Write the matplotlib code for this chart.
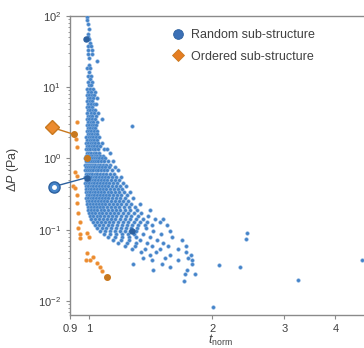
import matplotlib
matplotlib.use('Agg')
import matplotlib.pyplot as plt
from matplotlib.ticker import FixedLocator, LogLocator, NullLocator, NullFormatter
from matplotlib.lines import Line2D

plt.rcParams['font.family'] = ['Liberation Sans', 'DejaVu Sans']
plt.rcParams['mathtext.fontset'] = 'custom'
plt.rcParams['mathtext.rm'] = 'Liberation Sans'
plt.rcParams['mathtext.it'] = 'Liberation Sans:italic'

# Random sub-structure: (dP, [t_norm, ...])
random_rows = [
    (98.0, [0.989]), (87.9, [0.989]), (77.1, [0.994]), (65.6, [1.0]),
    (55.8, [0.994]), (50.6, [0.994]), (47.4, [0.983, 1.0]), (41.7, [1.006]),
    (37.8, [0.994, 1.011]), (33.2, [0.994, 1.017]), (29.2, [0.994, 1.017]),
    (25.6, [1.0]), (23.2, [1.046]), (20.4, [1.0]), (18.5, [0.989, 1.006]),
    (16.3, [1.0]), (14.3, [0.994, 1.011]), (13.0, [1.006]),
    (11.8, [0.994, 1.017]), (10.7, [1.0, 1.011]),
    (9.37, [0.989, 1.006, 1.023]), (8.5, [0.994, 1.011, 1.034]),
    (7.72, [0.989, 1.0, 1.017, 1.029]), (7.0, [0.994, 1.006, 1.023, 1.046]),
    (6.35, [0.989, 1.006, 1.017]), (5.76, [0.994, 1.011, 1.029, 1.040]),
    (5.23, [0.989, 1.0, 1.017]), (4.74, [0.994, 1.006, 1.023, 1.034]),
    (4.30, [0.989, 1.011, 1.029, 1.052]), (3.90, [0.994, 1.006, 1.017, 1.040]),
    (3.54, [0.989, 1.0, 1.017, 1.034, 1.076]),
    (3.21, [0.994, 1.011, 1.023, 1.046]),
    (2.92, [0.989, 1.0, 1.017, 1.029, 1.040]), (2.82, [1.274]),
    (2.65, [0.994, 1.006, 1.023, 1.034]),
    (2.40, [0.989, 1.0, 1.011, 1.029, 1.046]),
    (2.18, [0.994, 1.006, 1.017, 1.034, 1.046]),
    (1.98, [0.983, 1.0, 1.011, 1.023, 1.040, 1.058]),
    (1.79, [0.989, 1.006, 1.017, 1.029, 1.046]),
    (1.63, [0.983, 0.994, 1.011, 1.023, 1.034, 1.052, 1.076]),
    (1.48, [0.989, 1.0, 1.017, 1.029, 1.046, 1.064]),
    (1.34, [0.983, 0.994, 1.006, 1.023, 1.034, 1.052, 1.088, 1.107]),
    (1.21, [0.989, 1.0, 1.011, 1.029, 1.040, 1.058, 1.126]),
    (1.10, [0.983, 0.994, 1.006, 1.017, 1.034, 1.046, 1.064, 1.082]),
    (1.0, [0.978, 0.989, 1.0, 1.011, 1.023, 1.034, 1.046, 1.058, 1.076, 1.094]),
    (0.907, [0.983, 0.994, 1.006, 1.017, 1.029, 1.040, 1.052, 1.070, 1.088, 1.113, 1.145]),
    (0.823, [0.978, 0.989, 1.0, 1.011, 1.023, 1.034, 1.052, 1.064, 1.082, 1.101, 1.126]),
    (0.747, [0.983, 0.994, 1.006, 1.017, 1.029, 1.046, 1.058, 1.076, 1.094, 1.119, 1.158]),
    (0.678, [0.978, 0.989, 1.0, 1.011, 1.023, 1.040, 1.052, 1.070, 1.088, 1.107, 1.138, 1.178]),
    (0.615, [0.983, 0.994, 1.006, 1.017, 1.034, 1.046, 1.064, 1.082, 1.101, 1.126, 1.151]),
    (0.558, [0.978, 0.989, 1.0, 1.011, 1.029, 1.040, 1.058, 1.076, 1.094, 1.113, 1.138, 1.164, 1.198]),
    (0.506, [0.983, 0.994, 1.006, 1.023, 1.034, 1.052, 1.070, 1.088, 1.107, 1.132, 1.158, 1.184]),
    (0.459, [0.978, 0.989, 1.0, 1.017, 1.029, 1.046, 1.064, 1.082, 1.101, 1.119, 1.145, 1.171, 1.211]),
    (0.417, [0.983, 0.994, 1.011, 1.023, 1.040, 1.058, 1.076, 1.094, 1.113, 1.138, 1.164, 1.191, 1.232]),
    (0.378, [0.983, 1.0, 1.011, 1.029, 1.046, 1.064, 1.082, 1.101, 1.126, 1.151, 1.178, 1.204]),
    (0.343, [0.983, 0.994, 1.006, 1.023, 1.034, 1.052, 1.070, 1.088, 1.113, 1.132, 1.158, 1.184, 1.218, 1.260]),
    (0.311, [0.989, 1.0, 1.017, 1.029, 1.046, 1.064, 1.082, 1.101, 1.119, 1.145, 1.171, 1.198, 1.239]),
    (0.282, [0.983, 0.994, 1.011, 1.023, 1.040, 1.058, 1.076, 1.094, 1.113, 1.138, 1.164, 1.191, 1.225, 1.281]),
    (0.256, [0.989, 1.0, 1.017, 1.034, 1.052, 1.070, 1.088, 1.107, 1.132, 1.158, 1.184, 1.211, 1.246]),
    (0.232, [0.989, 1.006, 1.023, 1.040, 1.058, 1.076, 1.094, 1.119, 1.145, 1.171, 1.198, 1.232, 1.267, 1.333]),
    (0.211, [0.994, 1.011, 1.029, 1.046, 1.064, 1.082, 1.107, 1.132, 1.158, 1.184, 1.218, 1.253, 1.296]),
    (0.191, [0.994, 1.011, 1.029, 1.046, 1.070, 1.088, 1.113, 1.138, 1.164, 1.191, 1.225, 1.260, 1.311, 1.410]),
    (0.174, [1.0, 1.017, 1.034, 1.058, 1.076, 1.101, 1.126, 1.151, 1.178, 1.211, 1.246, 1.289, 1.341]),
    (0.157, [1.006, 1.023, 1.046, 1.064, 1.088, 1.113, 1.138, 1.164, 1.198, 1.232, 1.267, 1.318, 1.395]),
    (0.143, [1.011, 1.034, 1.058, 1.082, 1.107, 1.132, 1.158, 1.191, 1.225, 1.260, 1.303, 1.356, 1.451, 1.518]),
    (0.130, [1.023, 1.046, 1.070, 1.094, 1.119, 1.145, 1.178, 1.211, 1.246, 1.289, 1.333, 1.387, 1.492]),
    (0.118, [1.034, 1.058, 1.082, 1.113, 1.138, 1.171, 1.204, 1.239, 1.274, 1.318, 1.371, 1.426, 1.552]),
    (0.107, [1.046, 1.076, 1.101, 1.132, 1.164, 1.198, 1.232, 1.267, 1.311, 1.379]),
    (0.097, [1.064, 1.094, 1.126, 1.158, 1.191, 1.225, 1.260, 1.303, 1.434, 1.579]),
    (0.088, [1.088, 1.126, 1.164, 1.204, 1.246, 1.289, 1.356, 1.500]),
    (0.080, [1.113, 1.158, 1.204, 1.253, 1.303, 1.410, 1.596]),
    (0.072, [1.145, 1.198, 1.253, 1.333, 1.467, 1.689]),
    (0.066, [1.178, 1.239, 1.303, 1.387, 1.518]),
    (0.060, [1.225, 1.296, 1.426, 1.561, 1.727]),
    (0.054, [1.274, 1.371, 1.492, 1.651]),
    (0.049, [1.341, 1.459, 1.727]),
    (0.044, [1.410, 1.579, 1.777]),
    (0.040, [1.356, 1.535, 1.747]),
    (0.037, [1.426, 1.651, 1.787]),
    (0.033, [1.281, 1.509, 1.787]),
    (0.030, [1.579]),
    (0.027, [1.434, 1.737]),
    (0.024, [1.718, 1.817]),
    (0.019, [1.708]),
]
random_far_t = [2.08, 2.34, 2.42, 2.43, 2.01, 3.24, 4.65]
random_far_dp = [0.032, 0.030, 0.075, 0.091, 0.0082, 0.0197, 0.037]

# Ordered sub-structure
ordered_t = [0.935, 0.929, 0.935, 0.924, 0.935, 0.914, 0.924, 0.935, 0.935, 0.940,
             0.951, 0.940, 0.951, 0.989, 0.951, 1.0, 0.989, 0.983, 1.006, 1.023,
             1.046, 1.064, 1.076]
ordered_dp = [3.21, 1.85, 1.43, 0.656, 0.576, 0.417, 0.39, 0.311, 0.240, 0.174,
              0.130, 0.107, 0.088, 0.091, 0.077, 0.080, 0.047, 0.037, 0.038, 0.042,
              0.034, 0.030, 0.026]

# highlighted points (darker)
random_hi_t = [0.983, 0.989, 1.274]
random_hi_dp = [47.4, 0.54, 0.097]
ordered_hi_t = [0.919, 0.989, 1.107]
ordered_hi_dp = [2.18, 1.0, 0.0217]

# callouts left of the axis, joined to a highlighted point
random_call_t = [0.821, 0.989]
random_call_dp = [0.403, 0.54]
ordered_call_t = [0.812, 0.919]
ordered_call_dp = [2.73, 2.18]

blue = '#4584c9'
blue_dark = '#2d619f'
orange = '#ec8b2f'
orange_dark = '#c8781e'
text_col = '#404040'
axis_col = '#8a8a8a'

rand_t = []
rand_dp = []
for dp, ts in random_rows:
    for t in ts:
        rand_t.append(t)
        rand_dp.append(dp)
rand_t += random_far_t
rand_dp += random_far_dp

fig = plt.figure(figsize=(3.64, 3.48), dpi=100)
ax = fig.add_axes([70 / 364, 1 - 315 / 348, 294 / 364, 299 / 348])

ax.scatter(ordered_t, ordered_dp, s=8, color=orange, edgecolors='#f3b677', linewidths=0.3, zorder=2)
ax.scatter(rand_t, rand_dp, s=7, color=blue, edgecolors='#8cb5e2', linewidths=0.3, zorder=3)
ax.scatter(random_hi_t, random_hi_dp, s=13, color=blue_dark, zorder=4)
ax.scatter(ordered_hi_t, ordered_hi_dp, s=16, color=orange_dark, zorder=4)

ax.plot(random_call_t, random_call_dp, color=blue_dark, lw=1.0, clip_on=False, zorder=5)
ax.plot(ordered_call_t, ordered_call_dp, color=orange_dark, lw=1.0, clip_on=False, zorder=5)
ax.plot(random_call_t[:1], random_call_dp[:1], marker='o', ms=8, mfc=blue, mec=blue_dark,
        mew=1.0, ls='', clip_on=False, zorder=6)
ax.plot(random_call_t[:1], random_call_dp[:1], marker='o', ms=2.5, mfc='white', mec='white',
        ls='', clip_on=False, zorder=7)
ax.plot(ordered_call_t[:1], ordered_call_dp[:1], marker='D', ms=7, mfc=orange, mec=orange_dark,
        mew=1.0, ls='', clip_on=False, zorder=6)

ax.set_xscale('log')
ax.set_yscale('log')
ax.set_xlim(0.899, 4.70)
ax.set_ylim(0.00635, 100)

ax.xaxis.set_major_locator(FixedLocator([0.9, 1, 2, 3, 4]))
ax.xaxis.set_major_formatter(plt.FixedFormatter(['0.9', '1', '2', '3', '4']))
ax.xaxis.set_minor_locator(NullLocator())
ax.yaxis.set_major_locator(LogLocator(base=10, numticks=10))
ax.yaxis.set_minor_locator(LogLocator(base=10, subs=range(2, 10), numticks=10))
ax.yaxis.set_minor_formatter(NullFormatter())

for side in ['left', 'bottom', 'top']:
    ax.spines[side].set_color(axis_col)
    ax.spines[side].set_linewidth(1.0)
ax.spines['right'].set_visible(False)
ax.tick_params(which='major', length=3, width=0.8, color=axis_col, labelsize=8, labelcolor=text_col)
ax.tick_params(which='minor', length=1.5, width=0.6, color=axis_col)

ax.set_ylabel('$\\mathit{\\Delta P}$ (Pa)', fontsize=9, color=text_col)
ax.yaxis.set_label_coords(-0.167, 0.485)
ax.set_xlabel('$\\mathit{t}_{\\mathrm{norm}}$', fontsize=9, color=text_col)
ax.xaxis.set_label_coords(0.51, -0.06)

handles = [
    Line2D([], [], marker='o', ls='', ms=7, mfc='#3b70b6', mec=blue_dark, mew=0.6),
    Line2D([], [], marker='D', ls='', ms=6, mfc='#e57d22', mec=orange_dark, mew=0.6),
]
ax.legend(handles, ['Random sub-structure', 'Ordered sub-structure'], loc='upper left',
          bbox_to_anchor=(0.345, 0.955), frameon=False, fontsize=9, handlelength=1.0,
          handletextpad=0.6, labelspacing=0.75, borderpad=0, borderaxespad=0,
          labelcolor=text_col)

fig.savefig('out.png', dpi=100)
